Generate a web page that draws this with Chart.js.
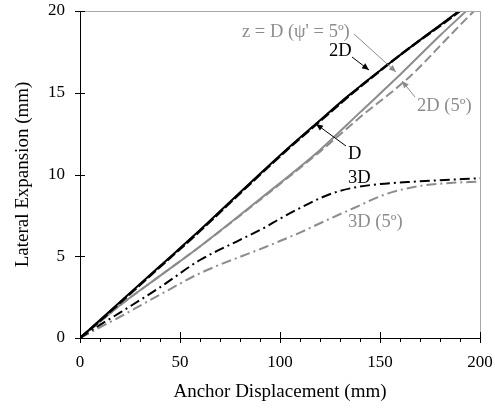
<!DOCTYPE html>
<html>
<head>
<meta charset="utf-8">
<script src="https://cdn.jsdelivr.net/npm/chart.js@4.4.1/dist/chart.umd.min.js"></script>
<style>
  html, body { margin: 0; padding: 0; background: #fff; }
  #wrap { width: 495px; height: 408px; }
</style>
</head>
<body>
<div id="wrap"><canvas id="chart" width="495" height="408"></canvas></div>
<script>
// 곡선 데이터 (x: Anchor Displacement, y: Lateral Expansion)

// D (검정 실선)
const dX = [0, 10, 20, 40, 60, 80, 103, 118, 135, 160, 190, 200];
const dY = [0, 1.1, 2.2, 4.4, 6.6, 8.9, 11.5, 13.1, 14.9, 17.3, 20.05, 21.0];

// 2D (검정 파선)
const twoDX = [0, 10, 20, 40, 60, 80, 103, 118, 135, 160, 191, 200];
const twoDY = [0, 1.05, 2.15, 4.35, 6.55, 8.85, 11.45, 13.05, 14.85, 17.3, 20.1, 21.0];

// z = D (psi' = 5) (회색 실선)
const psiX = [0, 10, 20, 40, 60, 90, 120, 140, 160, 180, 194, 200];
const psiY = [0, 1.0, 2.0, 3.8, 5.6, 8.5, 11.5, 13.8, 16.1, 18.5, 20.1, 20.8];

// 2D (5) (회색 파선)
const twoD5X = [0, 10, 20, 40, 60, 90, 120, 140, 165, 185, 198, 200];
const twoD5Y = [0, 1.0, 2.0, 3.8, 5.6, 8.45, 11.4, 13.5, 16.0, 18.5, 20.1, 20.3];

// 3D (검정 일점쇄선)
const threeDX = [0, 10, 20, 40, 60, 80, 93, 100, 110, 120, 130, 145, 170, 200];
const threeDY = [0, 0.8, 1.55, 3.1, 4.77, 6.0, 6.8, 7.3, 7.95, 8.55, 9.0, 9.35, 9.58, 9.77];

// 3D (5) (회색 일점쇄선)
const threeD5X = [0, 20, 40, 60, 93, 110, 125, 137, 153, 170, 185, 200];
const threeD5Y = [0, 1.3, 2.65, 3.96, 5.58, 6.45, 7.3, 7.95, 8.8, 9.3, 9.48, 9.56];

// 축 눈금
const xMajorTicks = [0, 50, 100, 150, 200];
const yMajorTicks = [0, 5, 10, 15, 20];

const GRAY = "#8c8c8c";
const FONT = "'Liberation Serif', 'Times New Roman', serif";

// x, y 배열을 {x, y} 점 배열로
function toPoints(xs, ys) {
    let pts = [];
    for (let i = 0; i < xs.length; i++) {
        pts[i] = { x: xs[i], y: ys[i] };
    }
    return pts;
}

function lineSet(label, xs, ys, color, dash, width) {
    return {
        label: label,
        data: toPoints(xs, ys),
        borderColor: color,
        backgroundColor: color,
        borderWidth: width,
        borderDash: dash,
        pointRadius: 0,
        fill: false,
        cubicInterpolationMode: 'monotone'
    };
}

// 화살표 그리기
function arrow(ctx, x1, y1, x2, y2, color) {
    ctx.save();
    ctx.strokeStyle = color;
    ctx.fillStyle = color;
    ctx.lineWidth = 1;
    ctx.beginPath();
    ctx.moveTo(x1, y1);
    ctx.lineTo(x2, y2);
    ctx.stroke();
    const ang = Math.atan2(y2 - y1, x2 - x1);
    const len = 7, half = 3;
    ctx.beginPath();
    ctx.moveTo(x2, y2);
    ctx.lineTo(x2 - len * Math.cos(ang) + half * Math.sin(ang), y2 - len * Math.sin(ang) - half * Math.cos(ang));
    ctx.lineTo(x2 - len * Math.cos(ang) - half * Math.sin(ang), y2 - len * Math.sin(ang) + half * Math.cos(ang));
    ctx.closePath();
    ctx.fill();
    ctx.restore();
}

// 테두리, 눈금, 주석 플러그인
const decorPlugin = {
    id: 'decor',
    afterDraw(chart) {
        const ctx = chart.ctx;
        const area = chart.chartArea;
        const xs = chart.scales.x;
        const ys = chart.scales.y;

        ctx.save();
        // 위, 오른쪽 회색 테두리
        ctx.strokeStyle = "#a8a8a8";
        ctx.lineWidth = 1;
        ctx.beginPath();
        ctx.moveTo(area.left, area.top + 0.5);
        ctx.lineTo(area.right + 0.5, area.top + 0.5);
        ctx.lineTo(area.right + 0.5, area.bottom);
        ctx.stroke();

        // x축 눈금
        ctx.strokeStyle = "#000";
        ctx.beginPath();
        for (let v = 0; v <= 200; v += 10) {
            const px = Math.round(xs.getPixelForValue(v)) + 0.5;
            if (xMajorTicks.includes(v)) {
                ctx.moveTo(px, area.bottom - 6);
                ctx.lineTo(px, area.bottom + 5);
            } else {
                ctx.moveTo(px, area.bottom);
                ctx.lineTo(px, area.bottom + 4);
            }
        }
        // y축 눈금
        for (let i = 0; i < yMajorTicks.length; i++) {
            const py = Math.round(ys.getPixelForValue(yMajorTicks[i])) + 0.5;
            ctx.moveTo(area.left - 5, py);
            ctx.lineTo(area.left + 5, py);
        }
        ctx.stroke();

        // 주석 텍스트
        ctx.font = "18.5px " + FONT;
        ctx.textBaseline = "middle";
        ctx.textAlign = "left";

        ctx.fillStyle = GRAY;
        ctx.fillText("z = D (\u03C8' = 5\u00BA)", 242, 32);
        arrow(ctx, 354, 34, 396, 72, GRAY);

        ctx.fillStyle = "#000";
        ctx.fillText("2D", 329, 51);
        arrow(ctx, 352, 57, 369, 70, "#000");

        ctx.fillStyle = GRAY;
        ctx.fillText("2D (5\u00BA)", 417, 106);
        arrow(ctx, 415, 97, 402, 81, GRAY);

        ctx.fillStyle = "#000";
        ctx.fillText("D", 348, 154);
        arrow(ctx, 346, 146, 316, 124, "#000");

        ctx.fillText("3D", 348, 178);

        ctx.fillStyle = GRAY;
        ctx.fillText("3D (5\u00BA)", 348, 222);
        ctx.restore();
    }
};

new Chart(document.getElementById("chart"), {
    type: 'line',
    data: {
        datasets: [
            lineSet("D", dX, dY, "#000", [], 2),
            lineSet("2D", twoDX, twoDY, "#000", [10, 3], 2.5),
            lineSet("z = D (5)", psiX, psiY, GRAY, [], 2),
            lineSet("2D (5)", twoD5X, twoD5Y, GRAY, [9, 4], 2),
            lineSet("3D", threeDX, threeDY, "#000", [10, 4, 2, 4], 2),
            lineSet("3D (5)", threeD5X, threeD5Y, GRAY, [10, 4, 2, 4], 2)
        ]
    },
    options: {
        responsive: false,
        animation: false,
        events: [],
        layout: { padding: { top: 11, right: 15, left: 0, bottom: 0 } },
        plugins: {
            legend: { display: false },
            tooltip: { enabled: false }
        },
        scales: {
            x: {
                type: 'linear',
                min: 0,
                max: 200,
                afterFit: (scale) => {
                    scale.height = 70;
                    scale.paddingLeft = 0;
                    scale.paddingRight = 0;
                },
                grid: { display: false, drawTicks: false },
                border: { display: true, color: "#000", width: 1 },
                ticks: {
                    stepSize: 50,
                    padding: 14,
                    color: "#000",
                    font: { family: FONT, size: 17 },
                    maxRotation: 0
                },
                title: {
                    display: true,
                    text: "Anchor Displacement (mm)",
                    color: "#000",
                    font: { family: FONT, size: 19 },
                    padding: { top: 0, bottom: 5 }
                }
            },
            y: {
                type: 'linear',
                min: 0,
                max: 20,
                afterFit: (scale) => {
                    scale.width = 80;
                    scale.paddingTop = 0;
                    scale.paddingBottom = 0;
                },
                grid: { display: false, drawTicks: false },
                border: { display: true, color: "#000", width: 1 },
                ticks: {
                    stepSize: 5,
                    padding: 15,
                    color: "#000",
                    font: { family: FONT, size: 17 }
                },
                title: {
                    display: true,
                    text: "Lateral Expansion (mm)",
                    color: "#000",
                    font: { family: FONT, size: 19 },
                    padding: { top: 12, bottom: 0 }
                }
            }
        }
    },
    plugins: [decorPlugin]
});
</script>
</body>
</html>
